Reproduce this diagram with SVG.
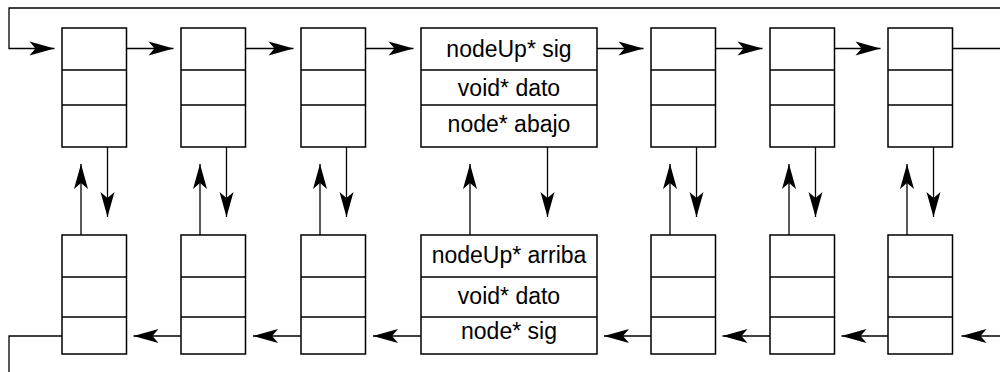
<svg xmlns="http://www.w3.org/2000/svg" width="1000" height="372" viewBox="0 0 1000 372">
<style>
.box{fill:#fff;stroke:#000;stroke-width:1.5}
.div{stroke:#000;stroke-width:1.5}
.c{fill:none;stroke:#000;stroke-width:1.3}
.a{fill:none;stroke:#000;stroke-width:1.3;marker-end:url(#ah)}
text{font-family:"Liberation Sans",Arial,sans-serif;font-size:23px;fill:#000;text-anchor:middle}
</style>
<defs>
<marker id="ah" markerUnits="userSpaceOnUse" markerWidth="26" markerHeight="16" refX="25" refY="7" orient="auto" overflow="visible">
<path d="M0,0 L25,7 L0,14 L6,7 Z" fill="#000"/>
</marker>
</defs>
<rect width="1000" height="372" fill="#fff"/>
<g id="connectors">
<path class="a" d="M1000,8 H9 V48.5 H54.5"/>
<path class="c" d="M952.5,48.5 H1000"/>
<path class="a" d="M126.5,48.5 H173.5"/>
<path class="a" d="M245.5,48.5 H293.5"/>
<path class="a" d="M365.5,48.5 H413.5"/>
<path class="a" d="M597,48.5 H643.5"/>
<path class="a" d="M715.5,48.5 H762.5"/>
<path class="a" d="M834.5,48.5 H880.5"/>
<path class="a" d="M181,336 H133.5"/>
<path class="a" d="M301,336 H253"/>
<path class="a" d="M421,336 H373"/>
<path class="a" d="M651,336 H604"/>
<path class="a" d="M770,336 H722.5"/>
<path class="a" d="M888,336 H841.5"/>
<path class="a" d="M1000,336 H961.5"/>
<path class="c" d="M62,336 H9 V372"/>
<path class="a" d="M81,235 V164"/>
<path class="a" d="M107.5,147 V217"/>
<path class="a" d="M200,235 V164"/>
<path class="a" d="M226.5,147 V217"/>
<path class="a" d="M320,235 V164"/>
<path class="a" d="M346.5,147 V217"/>
<path class="a" d="M470,235 V164"/>
<path class="a" d="M547.5,147 V217"/>
<path class="a" d="M670,235 V164"/>
<path class="a" d="M696.5,147 V217"/>
<path class="a" d="M789,235 V164"/>
<path class="a" d="M815.5,147 V217"/>
<path class="a" d="M907,235 V164"/>
<path class="a" d="M933.5,147 V217"/>
</g>
<g id="top1"><rect class="box" x="62" y="28" width="64.5" height="119"/><path class="div" d="M62,70 h64.5 M62,105 h64.5"/></g>
<g id="top2"><rect class="box" x="181" y="28" width="64.5" height="119"/><path class="div" d="M181,70 h64.5 M181,105 h64.5"/></g>
<g id="top3"><rect class="box" x="301" y="28" width="64.5" height="119"/><path class="div" d="M301,70 h64.5 M301,105 h64.5"/></g>
<g id="top4"><rect class="box" x="421" y="28" width="176" height="119"/><path class="div" d="M421,70 h176 M421,105 h176"/>
<text x="509" y="57">nodeUp* sig</text><text x="509" y="96">void* dato</text><text x="509" y="132">node* abajo</text></g>
<g id="top5"><rect class="box" x="651" y="28" width="64.5" height="119"/><path class="div" d="M651,70 h64.5 M651,105 h64.5"/></g>
<g id="top6"><rect class="box" x="770" y="28" width="64.5" height="119"/><path class="div" d="M770,70 h64.5 M770,105 h64.5"/></g>
<g id="top7"><rect class="box" x="888" y="28" width="64.5" height="119"/><path class="div" d="M888,70 h64.5 M888,105 h64.5"/></g>
<g id="bot1"><rect class="box" x="62" y="235" width="64.5" height="119"/><path class="div" d="M62,277 h64.5 M62,317 h64.5"/></g>
<g id="bot2"><rect class="box" x="181" y="235" width="64.5" height="119"/><path class="div" d="M181,277 h64.5 M181,317 h64.5"/></g>
<g id="bot3"><rect class="box" x="301" y="235" width="64.5" height="119"/><path class="div" d="M301,277 h64.5 M301,317 h64.5"/></g>
<g id="bot4"><rect class="box" x="421" y="235" width="176" height="119"/><path class="div" d="M421,277 h176 M421,317 h176"/>
<text x="509" y="263">nodeUp* arriba</text><text x="509" y="304">void* dato</text><text x="509" y="339">node* sig</text></g>
<g id="bot5"><rect class="box" x="651" y="235" width="64.5" height="119"/><path class="div" d="M651,277 h64.5 M651,317 h64.5"/></g>
<g id="bot6"><rect class="box" x="770" y="235" width="64.5" height="119"/><path class="div" d="M770,277 h64.5 M770,317 h64.5"/></g>
<g id="bot7"><rect class="box" x="888" y="235" width="64.5" height="119"/><path class="div" d="M888,277 h64.5 M888,317 h64.5"/></g>
</svg>
